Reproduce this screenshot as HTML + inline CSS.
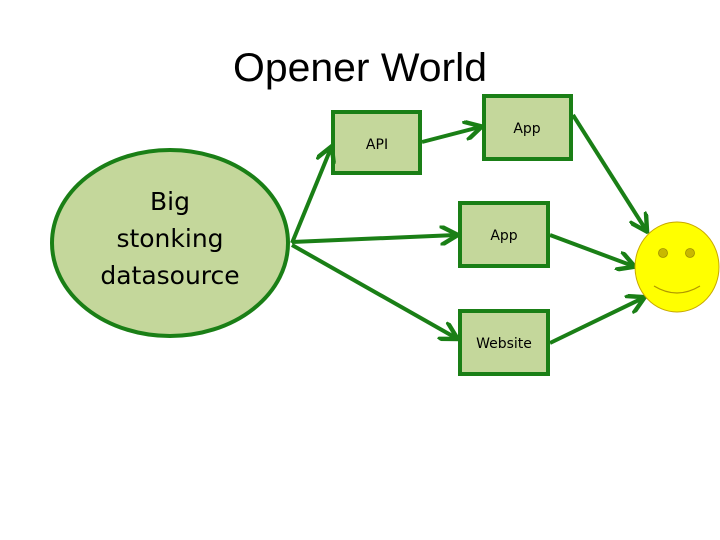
<!DOCTYPE html>
<html><head><meta charset="utf-8"><style>body{margin:0;background:#fff}svg{display:block}</style></head><body>
<svg width="720" height="540" viewBox="0 0 720 540" xmlns="http://www.w3.org/2000/svg">
<defs><marker id="a" markerWidth="5" markerHeight="5" refX="4" refY="2.5" orient="auto" markerUnits="strokeWidth"><path d="M0,0 L4.5,2.5 L0,5" fill="none" stroke="#1a7f16" stroke-width="1.1"/></marker></defs>
<text x="360" y="81" text-anchor="middle" font-family="Liberation Sans, sans-serif" font-size="40" textLength="254" lengthAdjust="spacingAndGlyphs" fill="#000">Opener World</text>
<ellipse cx="170" cy="243" rx="118" ry="93" fill="#c4d79b" stroke="#1a7f16" stroke-width="4"/>
<text font-family="DejaVu Sans, sans-serif" font-size="25" text-anchor="middle" fill="#000"><tspan x="170" y="210">Big</tspan><tspan x="170" y="247">stonking</tspan><tspan x="170" y="284">datasource</tspan></text>
<g fill="#c4d79b" stroke="#1a7f16" stroke-width="4">
<rect x="333" y="112" width="87" height="61"/>
<rect x="484" y="96" width="87" height="63"/>
<rect x="460" y="203" width="88" height="63"/>
<rect x="460" y="311" width="88" height="63"/>
</g>
<g font-family="DejaVu Sans, sans-serif" font-size="14" text-anchor="middle" fill="#000">
<text x="377" y="149">API</text><text x="527" y="133">App</text><text x="504" y="240">App</text><text x="504" y="348">Website</text>
</g>
<g stroke="#1a7f16" stroke-width="4" fill="none" marker-end="url(#a)">
<line x1="292" y1="243" x2="331" y2="148"/>
<line x1="292" y1="242" x2="456" y2="235"/>
<line x1="292" y1="245" x2="456" y2="338"/>
<line x1="422" y1="142" x2="480" y2="127"/>
<line x1="573" y1="115" x2="646" y2="230"/>
<line x1="550" y1="235" x2="633" y2="266"/>
<line x1="550" y1="343" x2="643" y2="298"/>
</g>
<ellipse cx="677" cy="267" rx="42" ry="45" fill="#ffff00" stroke="#c8a800" stroke-width="1"/>
<circle cx="663" cy="253" r="4.5" fill="#c8b800" stroke="#a09000" stroke-width="0.8"/>
<circle cx="690" cy="253" r="4.5" fill="#c8b800" stroke="#a09000" stroke-width="0.8"/>
<path d="M654,286 Q677,300 700,286" fill="none" stroke="#b09800" stroke-width="1.2"/>
</svg>
</body></html>
